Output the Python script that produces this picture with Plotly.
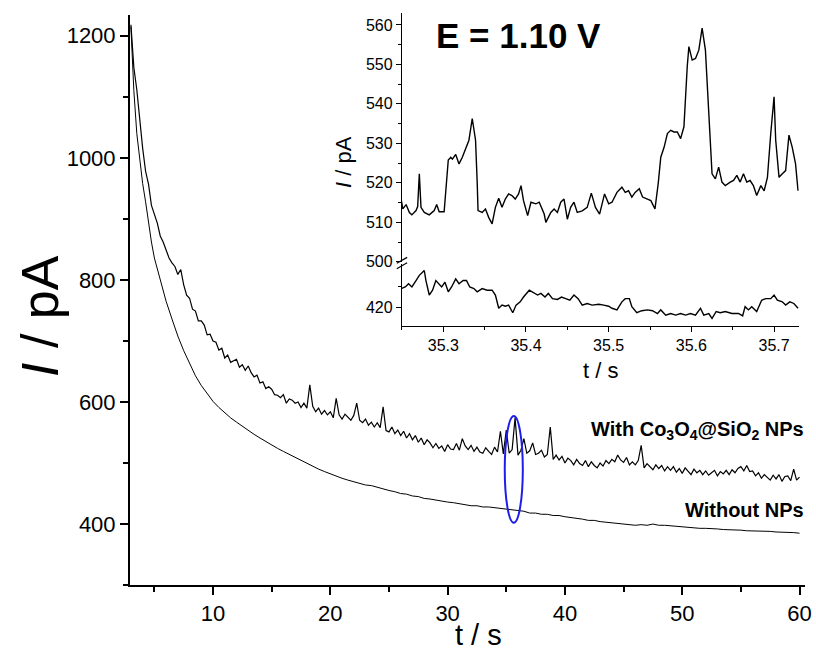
import numpy as np
import plotly.graph_objects as go

# ---------------- data ----------------
# Main chart: "With Co3O4@SiO2 NPs" sampled every 0.25 s from 3 s to 60 s
T_WITH = np.round(np.arange(3.0, 60.001, 0.25), 2)
I_WITH = [
    1218, 1148, 1112, 1058,   # 3
    1016, 978, 957, 922,      # 4
    908, 893, 872, 862,       # 5
    849, 836, 828, 822,       # 6
    809, 817, 792, 775,       # 7
    770, 752, 749, 733,       # 8
    733, 726, 710, 711,       # 9
    700, 698, 685, 688,       # 10
    672, 677, 665, 668,       # 11
    670, 657, 661, 652,       # 12
    659, 648, 641, 644,       # 13
    631, 633, 622, 625,       # 14
    621, 612, 611, 607,       # 15
    612, 598, 605, 603,       # 16
    598, 600, 591, 598,       # 17
    590, 628, 593, 584,       # 18
    590, 580, 586, 579,       # 19
    584, 574, 606, 579,       # 20
    572, 580, 575, 570,       # 21
    578, 598, 570, 566,       # 22
    572, 562, 567, 559,       # 23
    566, 558, 592, 553,       # 24
    551, 559, 548, 554,       # 25
    545, 552, 541, 548,       # 26
    538, 545, 534, 541,       # 27
    530, 538, 533, 525,       # 28
    532, 524, 528, 519,       # 29
    530, 523, 522, 532,       # 30
    521, 540, 528, 522,       # 31
    529, 519, 526, 518,       # 32
    516, 525, 519, 514,       # 33
    526, 518, 552, 515,       # 34
    554, 516, 522, 574,       # 35
    513, 521, 540, 516,       # 36
    520, 533, 514, 516,       # 37
    521, 510, 514, 559,       # 38
    506, 513, 505, 511,       # 39
    500, 508, 504, 497,       # 40
    506, 499, 496, 504,       # 41
    494, 502, 496, 492,       # 42
    500, 495, 504, 499,       # 43
    506, 502, 513, 505,       # 44
    501, 509, 497, 502,       # 45
    497, 504, 529, 492,       # 46
    499, 494, 489, 497,       # 47
    491, 496, 487, 494,       # 48
    488, 494, 485, 491,       # 49
    483, 492, 487, 481,       # 50
    490, 484, 488, 481,       # 51
    487, 480, 484, 488,       # 52
    479, 486, 482, 488,       # 53
    481, 489, 484, 491,       # 54
    494, 487, 496, 486,       # 55
    487, 479, 484, 475,       # 56
    481, 476, 472, 480,       # 57
    474, 481, 470, 478,       # 58
    479, 471, 490, 472,       # 59
    477,                      # 60
]

# Main chart: "Without NPs"
T_WITHOUT = np.concatenate([np.arange(3.0, 4.99, 0.25), np.arange(5.0, 60.001, 0.5)])
I_WITHOUT = [
    1215, 1110, 1040, 997, 958, 928, 894, 862,          # 3 - 4.75
    836, 799, 765, 736, 708, 684, 662, 643, 627, 613,   # 5 - 9.5
    601, 591, 582, 574, 567, 560, 553, 547, 541, 535,   # 10 - 14.5
    530, 524, 519, 514, 509, 504, 499, 495, 490, 486,   # 15 - 19.5
    482, 478, 475, 472, 469, 467, 464, 463, 460, 458,   # 20 - 24.5
    455, 453, 450, 449, 446, 445, 442, 441, 439, 438,   # 25 - 29.5
    436, 435, 433, 432, 430, 430, 428, 428, 427, 426,   # 30 - 34.5
    425, 424, 422, 421, 418, 418, 416, 416, 414, 414,   # 35 - 39.5
    412, 411, 409, 408, 406, 406, 404, 403, 401, 401,   # 40 - 44.5
    399, 399, 398, 399, 398, 400, 398, 398, 397, 396,   # 45 - 49.5
    395, 395, 394, 393, 393, 393, 392, 391, 391, 390,   # 50 - 54.5
    390, 389, 389, 388, 388, 388, 387, 387, 386, 386,   # 55 - 59.5
    385,                                                # 60
]

# Inset: zoom 35.25 - 35.73 s
T_IN_WITH = [35.249, 35.251, 35.255, 35.259, 35.262, 35.267, 35.269, 35.271, 35.273, 35.277,
             35.283, 35.289, 35.292, 35.295, 35.301, 35.302, 35.306, 35.309, 35.311, 35.315,
             35.319, 35.323, 35.327, 35.331, 35.335, 35.339, 35.341, 35.342, 35.347, 35.351,
             35.355, 35.359, 35.363, 35.367, 35.371, 35.375, 35.379, 35.383, 35.387, 35.391,
             35.394, 35.397, 35.402, 35.406, 35.412, 35.416, 35.422, 35.424, 35.430, 35.434,
             35.438, 35.442, 35.446, 35.450, 35.454, 35.458, 35.462, 35.468, 35.474, 35.479,
             35.484, 35.489, 35.495, 35.500, 35.504, 35.510, 35.516, 35.520, 35.524, 35.528,
             35.532, 35.537, 35.541, 35.547, 35.551, 35.556, 35.560, 35.563, 35.567, 35.571,
             35.575, 35.579, 35.583, 35.587, 35.591, 35.595, 35.597, 35.601, 35.605, 35.609,
             35.613, 35.617, 35.621, 35.625, 35.629, 35.633, 35.637, 35.641, 35.647, 35.651,
             35.655, 35.659, 35.663, 35.667, 35.671, 35.675, 35.679, 35.684, 35.688, 35.692,
             35.696, 35.700, 35.702, 35.706, 35.710, 35.714, 35.718, 35.722, 35.726, 35.729]
I_IN_WITH = [515.9, 513.4, 514.5, 512.5, 511.9, 513.0, 514.0, 522.3, 513.8, 512.5,
             511.9, 513.0, 514.5, 512.7, 512.7, 515.0, 525.8, 526.5, 526.0, 527.2,
             524.8, 526.5, 528.6, 530.8, 536.3, 530.8, 520.0, 513.0, 512.5, 513.4,
             511.2, 509.6, 513.8, 516.1, 513.8, 515.9, 517.2, 516.8, 515.9, 517.2,
             519.3, 515.5, 511.7, 515.1, 514.7, 515.1, 512.1, 510.0, 512.5, 513.4,
             512.5, 515.1, 515.9, 510.8, 513.8, 515.1, 512.5, 512.9, 513.8, 517.4,
             513.8, 512.1, 517.2, 514.7, 515.1, 517.6, 518.9, 517.6, 518.0, 516.4,
             517.6, 518.5, 516.4, 515.9, 515.5, 513.4, 520.0, 526.5, 529.0, 532.5,
             533.3, 532.9, 532.9, 531.2, 534.2, 549.4, 554.5, 551.1, 551.5, 553.6,
             559.2, 553.6, 536.7, 522.3, 521.0, 524.0, 520.2, 519.3, 520.2, 520.6,
             521.9, 520.2, 522.3, 520.2, 520.6, 519.3, 516.8, 519.3, 518.0, 521.4,
             532.5, 541.8, 530.8, 521.4, 522.3, 523.1, 532.1, 529.0, 524.8, 518.0]

T_IN_WITHOUT = [35.249, 35.254, 35.258, 35.262, 35.267, 35.271, 35.277, 35.279, 35.283, 35.287,
                35.291, 35.295, 35.298, 35.302, 35.306, 35.310, 35.315, 35.319, 35.324, 35.328,
                35.332, 35.337, 35.341, 35.347, 35.353, 35.359, 35.363, 35.367, 35.371, 35.375,
                35.379, 35.384, 35.388, 35.393, 35.397, 35.404, 35.408, 35.414, 35.418, 35.423,
                35.427, 35.432, 35.438, 35.443, 35.448, 35.453, 35.458, 35.463, 35.468, 35.474,
                35.480, 35.488, 35.494, 35.500, 35.504, 35.510, 35.516, 35.520, 35.525, 35.528,
                35.534, 35.540, 35.547, 35.553, 35.559, 35.563, 35.569, 35.575, 35.581, 35.587,
                35.593, 35.599, 35.605, 35.611, 35.615, 35.621, 35.625, 35.630, 35.635, 35.641,
                35.649, 35.657, 35.662, 35.665, 35.669, 35.673, 35.679, 35.685, 35.690, 35.696,
                35.700, 35.704, 35.710, 35.714, 35.719, 35.724, 35.729]
I_IN_WITHOUT = [424.6, 425.0, 425.8, 425.0, 426.6, 427.9, 429.1, 426.6, 423.0, 424.2,
                426.6, 425.8, 425.0, 426.2, 423.8, 425.0, 427.0, 425.8, 426.6, 426.6,
                425.0, 424.6, 423.8, 424.6, 424.2, 424.2, 423.0, 419.7, 420.5, 420.2,
                420.5, 418.6, 420.5, 421.3, 422.5, 424.2, 423.8, 423.0, 423.4, 422.5,
                423.4, 422.1, 421.9, 422.5, 422.1, 421.7, 423.0, 422.1, 420.5, 420.9,
                420.5, 420.7, 420.5, 420.2, 419.7, 419.3, 421.3, 422.1, 422.1, 420.1,
                418.6, 419.1, 419.3, 419.1, 418.4, 419.3, 418.0, 418.4, 418.0, 418.4,
                418.0, 418.4, 418.0, 419.7, 418.0, 418.4, 417.2, 418.9, 418.6, 418.9,
                418.4, 418.4, 417.8, 420.1, 419.3, 420.1, 418.9, 421.7, 422.1, 422.1,
                423.0, 421.7, 421.3, 420.5, 421.3, 420.9, 419.7]

MAIN_YTICKS = [400, 600, 800, 1000, 1200]
INSET_UPPER_TICKS = [500, 510, 520, 530, 540, 550, 560]
INSET_LOWER_TICKS = [420]

# ---------------- figure ----------------
FONT = "Liberation Sans, Arial, sans-serif"
BLACK = "black"

fig = go.Figure()
fig.add_trace(go.Scatter(x=T_WITH, y=I_WITH, mode="lines",
                         line=dict(color=BLACK, width=1.2), xaxis="x", yaxis="y"))
fig.add_trace(go.Scatter(x=T_WITHOUT, y=I_WITHOUT, mode="lines",
                         line=dict(color=BLACK, width=1), xaxis="x", yaxis="y"))
fig.add_trace(go.Scatter(x=T_IN_WITH, y=I_IN_WITH, mode="lines",
                         line=dict(color=BLACK, width=1.4), xaxis="x2", yaxis="y4"))
fig.add_trace(go.Scatter(x=T_IN_WITHOUT, y=I_IN_WITHOUT, mode="lines",
                         line=dict(color=BLACK, width=1.4), xaxis="x2", yaxis="y3"))

axis_common = dict(showline=True, linecolor=BLACK, showgrid=False, zeroline=False,
                   ticks="outside", tickcolor=BLACK, mirror=False, automargin=False)

fig.update_layout(
    template="none",
    width=816, height=653,
    margin=dict(l=0, r=0, t=0, b=0, pad=0),
    paper_bgcolor="white", plot_bgcolor="white",
    showlegend=False,
    font=dict(family=FONT, color=BLACK),
    xaxis=dict(**axis_common, domain=[0.159, 0.987], range=[2.9, 60.5], anchor="y",
               linewidth=1.5, tickwidth=1.5, ticklen=8, dtick=10, tick0=0,
               tickfont=dict(size=22), ticklabelstandoff=0,
               minor=dict(dtick=5, ticks="outside", ticklen=5, tickcolor=BLACK, tickwidth=1.5)),
    yaxis=dict(**axis_common, domain=[0.104, 0.977], range=[300, 1234], anchor="x",
               linewidth=1.5, tickwidth=1.5, ticklen=8, tickvals=MAIN_YTICKS,
               tickfont=dict(size=22),
               minor=dict(dtick=100, tick0=0, ticks="outside", ticklen=5, tickcolor=BLACK, tickwidth=1.5)),
    xaxis2=dict(**axis_common, domain=[0.4926, 0.979], range=[35.25, 35.73], anchor="y3",
                linewidth=1.2, tickwidth=1.2, ticklen=5, dtick=0.1, tick0=35.0, tickformat=".1f",
                tickfont=dict(size=16),
                minor=dict(dtick=0.05, ticks="outside", ticklen=3, tickcolor=BLACK, tickwidth=1.2)),
    yaxis3=dict(**axis_common, domain=[0.5008, 0.5950], range=[415.3, 430.6], anchor="x2",
                linewidth=1.2, tickwidth=1.2, ticklen=5, tickvals=INSET_LOWER_TICKS,
                tickfont=dict(size=16),
                minor=dict(tickvals=[425], ticks="outside", ticklen=3, tickcolor=BLACK, tickwidth=1.2)),
    yaxis4=dict(**axis_common, domain=[0.5990, 0.980], range=[500, 563], anchor="x2",
                linewidth=1.2, tickwidth=1.2, ticklen=5, tickvals=INSET_UPPER_TICKS,
                tickfont=dict(size=16),
                minor=dict(dtick=5, tick0=0, ticks="outside", ticklen=3, tickcolor=BLACK, tickwidth=1.2)),
)

# break marks on inset y axis
for y0, y1 in [(-0.028, -0.004), (-0.006, 0.018)]:
    fig.add_shape(type="line", xref="x2 domain", yref="y4 domain",
                  x0=-0.013, x1=0.013, y0=y0, y1=y1, line=dict(color=BLACK, width=1.2))

# blue ellipse marking the zoomed region
fig.add_shape(type="circle", xref="x", yref="y", x0=34.87, x1=36.41, y0=402, y1=577,
              line=dict(color="rgb(30,30,235)", width=2))

ann = [
    dict(text="<i>I</i> / pA", x=40 / 816, y=1 - 316 / 653, textangle=-90, font=dict(size=52)),
    dict(text="t / s", x=478 / 816, y=1 - 635 / 653, font=dict(size=29)),
    dict(text="<i>I</i> / pA", x=343 / 816, y=1 - 162 / 653, textangle=-90, font=dict(size=22)),
    dict(text="t / s", x=600 / 816, y=1 - 370 / 653, font=dict(size=22)),
    dict(text="<b>E = 1.10 V</b>", x=518 / 816, y=1 - 35 / 653, font=dict(size=35)),
]
for a in ann:
    fig.add_annotation(xref="paper", yref="paper", showarrow=False,
                       xanchor="center", yanchor="middle", **a)

fig.add_annotation(text="<b>With Co<sub>3</sub>O<sub>4</sub>@SiO<sub>2</sub> NPs</b>",
                   xref="paper", yref="paper", x=806 / 816, y=1 - 430 / 653,
                   xanchor="right", yanchor="middle", showarrow=False, font=dict(size=20))
fig.add_annotation(text="<b>Without NPs</b>",
                   xref="paper", yref="paper", x=806 / 816, y=1 - 510 / 653,
                   xanchor="right", yanchor="middle", showarrow=False, font=dict(size=20))

fig.write_html("out.html")
